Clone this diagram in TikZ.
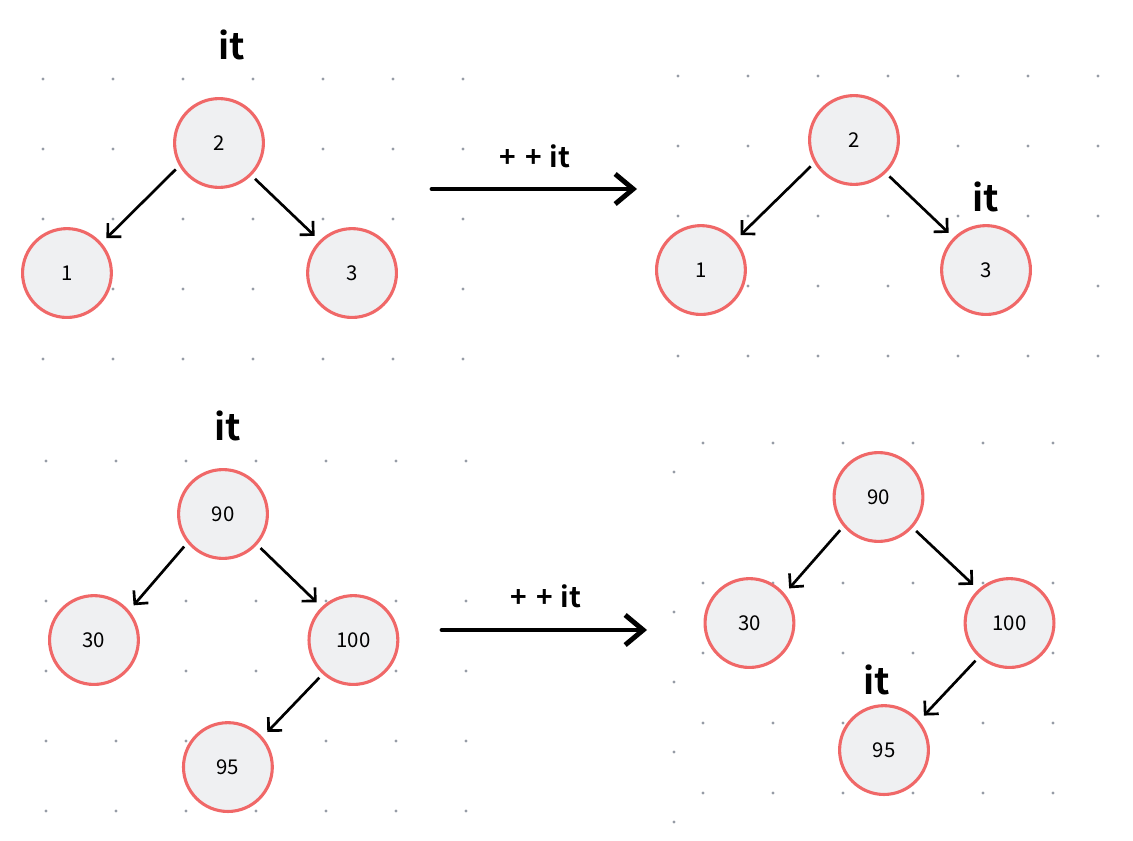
\documentclass[tikz,border=0pt]{standalone}
\usepackage{fontspec}
\setmainfont{Noto Sans CJK SC}[BoldFont={Noto Sans CJK SC Bold}]
\usetikzlibrary{positioning, arrows.meta}
\definecolor{nodered}{RGB}{240,104,104}
\definecolor{nodefill}{RGB}{239,240,242}
\definecolor{dotgrey}{RGB}{150,156,166}

\begin{document}
\begin{tikzpicture}
    [
        x=0.025cm, y=-0.025cm, on grid,
        tree_node/.style={circle, draw=nodered, fill=nodefill, line width=2.2pt, minimum size=2.22cm, inner sep=0pt, font=\fontsize{14.5}{16}\selectfont},
        it_label/.style={inner sep=0pt, font=\fontsize{26}{30}\selectfont\bfseries},
        step_label/.style={inner sep=0pt, font=\fontsize{20}{24}\selectfont\bfseries},
        child_edge/.style={-{Straight Barb[length=2.4mm, width=4.8mm]}, line width=1.9pt, color=black, shorten <=0.12cm, shorten >=0.17cm},
        step_arrow/.style={-{Straight Barb[length=4.5mm, width=7.5mm]}, line width=3.5pt, line cap=round, color=black},
        grid_dot/.style={fill=dotgrey},
    ]
        \useasboundingbox (0,0) rectangle (1133,841);
        % dotted background of the four panels
        \foreach \i in {0,...,6} \foreach \j in {0,...,4} \fill[grid_dot] (43+70*\i, 79+70*\j) circle (0.04cm);
        \foreach \i in {0,...,6} \foreach \j in {0,...,4} \fill[grid_dot] (678+70*\i, 76+70*\j) circle (0.04cm);
        \foreach \i in {0,...,6} \foreach \y in {461,601,671,741,811} \fill[grid_dot] (46+70*\i, \y) circle (0.04cm);
        \foreach \i in {0,...,5} \foreach \y in {443,583,653,723,793} \fill[grid_dot] (703+70*\i, \y) circle (0.04cm);
        \foreach \y in {472,612,682,752,822} \fill[grid_dot] (674, \y) circle (0.04cm);

        % before ++it, top
        \node[tree_node] (a2) at (219,143) {2} ;
        \node[tree_node] (a1) [below left = 3.25cm and 3.8cm of a2] {1} ;
        \node[tree_node] (a3) [below right = 3.25cm and 3.325cm of a2] {3} ;
        \node[it_label] (itA) [above right = 2.45cm and 0.325cm of a2] {it} ;
        \draw[child_edge] (a2.210) -- (a1.41) ;
        \draw[child_edge] (a2.315) -- (a3.135) ;

        % after ++it, top
        \node[tree_node] (b2) at (854,140) {2} ;
        \node[tree_node] (b1) [below left = 3.25cm and 3.825cm of b2] {1} ;
        \node[tree_node] (b3) [below right = 3.25cm and 3.3cm of b2] {3} ;
        \node[it_label] (itB) [above = 1.825cm of b3] {it} ;
        \draw[child_edge] (b2.210) -- (b1.41) ;
        \draw[child_edge] (b2.314) -- (b3.135) ;

        % before ++it, bottom
        \node[tree_node] (c90) at (223,514) {90} ;
        \node[tree_node] (c30) [below left = 3.15cm and 3.225cm of c90] {30} ;
        \node[tree_node] (c100) [below right = 3.15cm and 3.26cm of c90] {100} ;
        \node[tree_node] (c95) [below left = 3.175cm and 3.1375cm of c100] {95} ;
        \node[it_label] (itC) [above right = 2.2cm and 0.125cm of c90] {it} ;
        \draw[child_edge] (c90.219) -- (c30.40) ;
        \draw[child_edge] (c90.318) -- (c100.134) ;
        \draw[child_edge] (c100.228) -- (c95.41) ;

        % after ++it, bottom
        \node[tree_node] (d90) at (878.5,497) {90} ;
        \node[tree_node] (d30) [below left = 3.15cm and 3.225cm of d90] {30} ;
        \node[tree_node] (d100) [below right = 3.15cm and 3.275cm of d90] {100} ;
        \node[tree_node] (d95) [below left = 3.175cm and 3.1375cm of d100] {95} ;
        \node[it_label] (itD) [above left = 1.75cm and 0.175cm of d95] {it} ;
        \draw[child_edge] (d90.220) -- (d30.40) ;
        \draw[child_edge] (d90.318) -- (d100.133) ;
        \draw[child_edge] (d100.228) -- (d95.40) ;

        % the two steps
        \coordinate (stepA_from) at (432,189) ;
        \coordinate (stepA_to) at (637,189) ;
        \coordinate (stepB_from) at (442,630) ;
        \coordinate (stepB_to) at (647,630) ;
        \draw[step_arrow] (stepA_from) -- (stepA_to) ;
        \draw[step_arrow] (stepB_from) -- (stepB_to) ;
        \node[step_label] (opA) at (535,156) {+\kern0.33em+\kern0.28em it} ;
        \node[step_label] (opB) at (546,596) {+\kern0.33em+\kern0.28em it} ;
    \end{tikzpicture}
\end{document}
